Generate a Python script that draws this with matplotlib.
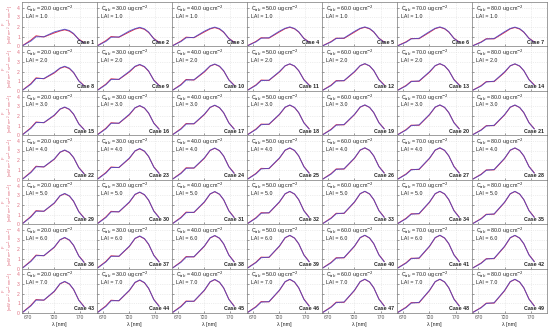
import matplotlib
matplotlib.use("Agg")
import matplotlib.pyplot as plt

# ============================================================
# Data (7 LAI rows x 7 Cab columns)
# ============================================================
wavelength = [660, 675, 685, 700, 720, 731, 740, 749, 757, 767, 777]
cab_values = [20.0, 30.0, 40.0, 50.0, 60.0, 70.0, 80.0]
lai_values = [1.0, 2.0, 3.0, 4.0, 5.0, 6.0, 7.0]

# red curve per case (case 1..49)
red_curves = [
    [0.12, 0.65, 1.10, 0.98, 1.40, 1.60, 1.72, 1.58, 1.29, 0.75, 0.40],
    [0.12, 0.60, 1.02, 0.95, 1.50, 1.79, 1.92, 1.77, 1.44, 0.82, 0.44],
    [0.11, 0.56, 0.96, 0.90, 1.50, 1.81, 1.95, 1.79, 1.46, 0.83, 0.45],
    [0.11, 0.52, 0.90, 0.86, 1.50, 1.84, 1.98, 1.82, 1.49, 0.84, 0.46],
    [0.10, 0.50, 0.86, 0.83, 1.48, 1.84, 1.98, 1.82, 1.49, 0.85, 0.46],
    [0.10, 0.48, 0.82, 0.80, 1.46, 1.84, 1.98, 1.82, 1.49, 0.85, 0.47],
    [0.10, 0.46, 0.80, 0.78, 1.44, 1.82, 1.96, 1.80, 1.47, 0.85, 0.47],
    [0.12, 0.75, 1.35, 1.25, 1.85, 2.33, 2.50, 2.30, 1.88, 1.05, 0.55],
    [0.12, 0.70, 1.25, 1.18, 1.95, 2.51, 2.70, 2.48, 2.03, 1.12, 0.58],
    [0.11, 0.66, 1.18, 1.12, 1.95, 2.56, 2.75, 2.53, 2.06, 1.15, 0.60],
    [0.11, 0.62, 1.12, 1.08, 1.95, 2.59, 2.78, 2.56, 2.09, 1.17, 0.61],
    [0.10, 0.59, 1.06, 1.04, 1.95, 2.60, 2.80, 2.58, 2.10, 1.18, 0.62],
    [0.10, 0.56, 1.00, 0.99, 1.93, 2.60, 2.80, 2.58, 2.10, 1.18, 0.62],
    [0.10, 0.54, 0.96, 0.96, 1.90, 2.59, 2.78, 2.56, 2.09, 1.18, 0.62],
    [0.12, 0.78, 1.38, 1.30, 2.05, 2.70, 2.90, 2.67, 2.18, 1.20, 0.62],
    [0.12, 0.73, 1.30, 1.24, 2.12, 2.84, 3.05, 2.81, 2.29, 1.27, 0.66],
    [0.11, 0.69, 1.22, 1.18, 2.14, 2.88, 3.10, 2.85, 2.33, 1.30, 0.67],
    [0.11, 0.65, 1.16, 1.13, 2.14, 2.90, 3.12, 2.87, 2.34, 1.31, 0.68],
    [0.10, 0.62, 1.10, 1.08, 2.13, 2.91, 3.13, 2.88, 2.35, 1.32, 0.69],
    [0.10, 0.59, 1.05, 1.04, 2.12, 2.91, 3.13, 2.88, 2.35, 1.32, 0.69],
    [0.10, 0.56, 1.00, 1.00, 2.10, 2.90, 3.12, 2.87, 2.34, 1.32, 0.69],
    [0.12, 0.80, 1.40, 1.32, 2.12, 2.84, 3.05, 2.81, 2.29, 1.27, 0.65],
    [0.12, 0.75, 1.32, 1.26, 2.20, 2.98, 3.20, 2.94, 2.40, 1.33, 0.69],
    [0.11, 0.70, 1.24, 1.20, 2.22, 3.03, 3.26, 3.00, 2.45, 1.36, 0.70],
    [0.11, 0.66, 1.18, 1.15, 2.22, 3.05, 3.28, 3.02, 2.46, 1.37, 0.71],
    [0.10, 0.63, 1.12, 1.10, 2.21, 3.06, 3.29, 3.03, 2.47, 1.38, 0.72],
    [0.10, 0.60, 1.07, 1.06, 2.20, 3.06, 3.29, 3.03, 2.47, 1.38, 0.72],
    [0.10, 0.57, 1.02, 1.02, 2.18, 3.05, 3.28, 3.02, 2.46, 1.38, 0.72],
    [0.12, 0.80, 1.40, 1.33, 2.17, 2.93, 3.15, 2.90, 2.36, 1.31, 0.67],
    [0.12, 0.75, 1.33, 1.27, 2.26, 3.07, 3.30, 3.04, 2.48, 1.37, 0.71],
    [0.11, 0.71, 1.25, 1.21, 2.28, 3.12, 3.36, 3.09, 2.52, 1.40, 0.72],
    [0.11, 0.67, 1.19, 1.16, 2.28, 3.14, 3.38, 3.11, 2.54, 1.41, 0.73],
    [0.10, 0.64, 1.13, 1.11, 2.27, 3.15, 3.39, 3.12, 2.54, 1.42, 0.74],
    [0.10, 0.61, 1.08, 1.07, 2.26, 3.15, 3.39, 3.12, 2.54, 1.42, 0.74],
    [0.10, 0.58, 1.03, 1.03, 2.24, 3.14, 3.38, 3.11, 2.54, 1.42, 0.74],
    [0.12, 0.80, 1.40, 1.33, 2.20, 2.98, 3.20, 2.94, 2.40, 1.33, 0.68],
    [0.12, 0.75, 1.33, 1.27, 2.29, 3.12, 3.35, 3.08, 2.51, 1.39, 0.72],
    [0.11, 0.71, 1.25, 1.21, 2.31, 3.17, 3.41, 3.14, 2.56, 1.42, 0.73],
    [0.11, 0.67, 1.19, 1.16, 2.31, 3.19, 3.43, 3.16, 2.57, 1.43, 0.74],
    [0.10, 0.64, 1.13, 1.11, 2.30, 3.20, 3.44, 3.16, 2.58, 1.44, 0.75],
    [0.10, 0.61, 1.08, 1.07, 2.29, 3.20, 3.44, 3.16, 2.58, 1.44, 0.75],
    [0.10, 0.58, 1.03, 1.03, 2.27, 3.19, 3.43, 3.16, 2.57, 1.44, 0.75],
    [0.12, 0.80, 1.40, 1.33, 2.23, 3.02, 3.25, 2.99, 2.44, 1.35, 0.69],
    [0.12, 0.75, 1.33, 1.27, 2.32, 3.16, 3.40, 3.13, 2.55, 1.41, 0.73],
    [0.11, 0.71, 1.25, 1.21, 2.34, 3.22, 3.46, 3.18, 2.60, 1.44, 0.74],
    [0.11, 0.67, 1.19, 1.16, 2.34, 3.24, 3.48, 3.20, 2.61, 1.45, 0.75],
    [0.10, 0.64, 1.13, 1.11, 2.33, 3.25, 3.49, 3.21, 2.62, 1.46, 0.76],
    [0.10, 0.61, 1.08, 1.07, 2.32, 3.25, 3.49, 3.21, 2.62, 1.46, 0.76],
    [0.10, 0.58, 1.03, 1.03, 2.30, 3.24, 3.48, 3.20, 2.61, 1.46, 0.76],
]

# blue curve per case (case 1..49)
blue_curves = [
    [0.10, 0.55, 1.00, 1.00, 1.50, 1.66, 1.78, 1.64, 1.34, 0.70, 0.35],
    [0.10, 0.52, 0.95, 0.98, 1.60, 1.84, 1.98, 1.82, 1.49, 0.78, 0.40],
    [0.10, 0.50, 0.90, 0.93, 1.58, 1.86, 2.00, 1.84, 1.50, 0.80, 0.42],
    [0.10, 0.47, 0.85, 0.90, 1.58, 1.88, 2.02, 1.86, 1.52, 0.81, 0.43],
    [0.09, 0.45, 0.82, 0.87, 1.56, 1.88, 2.02, 1.86, 1.52, 0.82, 0.43],
    [0.09, 0.43, 0.78, 0.84, 1.54, 1.88, 2.02, 1.86, 1.52, 0.82, 0.44],
    [0.09, 0.42, 0.76, 0.82, 1.52, 1.86, 2.00, 1.84, 1.50, 0.82, 0.44],
    [0.10, 0.68, 1.28, 1.28, 1.92, 2.37, 2.55, 2.35, 1.91, 1.02, 0.52],
    [0.10, 0.64, 1.18, 1.20, 2.02, 2.55, 2.74, 2.52, 2.06, 1.08, 0.55],
    [0.10, 0.60, 1.12, 1.15, 2.02, 2.59, 2.78, 2.56, 2.09, 1.12, 0.57],
    [0.10, 0.57, 1.06, 1.11, 2.00, 2.60, 2.80, 2.58, 2.10, 1.14, 0.58],
    [0.09, 0.54, 1.01, 1.07, 2.00, 2.62, 2.82, 2.59, 2.12, 1.15, 0.59],
    [0.09, 0.51, 0.96, 1.03, 1.98, 2.62, 2.82, 2.59, 2.12, 1.15, 0.59],
    [0.09, 0.49, 0.92, 1.00, 1.96, 2.60, 2.80, 2.58, 2.10, 1.15, 0.59],
    [0.10, 0.72, 1.32, 1.32, 2.10, 2.72, 2.93, 2.70, 2.20, 1.17, 0.60],
    [0.10, 0.67, 1.24, 1.26, 2.18, 2.86, 3.08, 2.83, 2.31, 1.24, 0.63],
    [0.10, 0.63, 1.16, 1.21, 2.19, 2.90, 3.12, 2.87, 2.34, 1.27, 0.64],
    [0.10, 0.60, 1.10, 1.16, 2.18, 2.92, 3.14, 2.89, 2.36, 1.28, 0.65],
    [0.09, 0.57, 1.05, 1.12, 2.17, 2.93, 3.15, 2.90, 2.36, 1.29, 0.66],
    [0.09, 0.54, 1.00, 1.08, 2.16, 2.93, 3.15, 2.90, 2.36, 1.29, 0.66],
    [0.09, 0.52, 0.96, 1.04, 2.14, 2.92, 3.14, 2.89, 2.36, 1.29, 0.66],
    [0.10, 0.74, 1.34, 1.34, 2.16, 2.86, 3.08, 2.83, 2.31, 1.24, 0.62],
    [0.10, 0.69, 1.26, 1.28, 2.25, 3.00, 3.23, 2.97, 2.42, 1.30, 0.66],
    [0.10, 0.64, 1.18, 1.23, 2.27, 3.05, 3.28, 3.02, 2.46, 1.33, 0.67],
    [0.10, 0.61, 1.12, 1.18, 2.26, 3.07, 3.30, 3.04, 2.48, 1.34, 0.68],
    [0.09, 0.58, 1.07, 1.14, 2.25, 3.08, 3.31, 3.05, 2.48, 1.35, 0.69],
    [0.09, 0.55, 1.02, 1.10, 2.24, 3.08, 3.31, 3.05, 2.48, 1.35, 0.69],
    [0.09, 0.53, 0.98, 1.06, 2.22, 3.07, 3.30, 3.04, 2.48, 1.35, 0.69],
    [0.10, 0.74, 1.34, 1.35, 2.21, 2.96, 3.18, 2.93, 2.39, 1.28, 0.64],
    [0.10, 0.69, 1.27, 1.29, 2.30, 3.10, 3.33, 3.06, 2.50, 1.34, 0.68],
    [0.10, 0.65, 1.19, 1.24, 2.32, 3.14, 3.38, 3.11, 2.54, 1.37, 0.69],
    [0.10, 0.62, 1.13, 1.19, 2.32, 3.16, 3.40, 3.13, 2.55, 1.38, 0.70],
    [0.09, 0.59, 1.08, 1.15, 2.31, 3.17, 3.41, 3.14, 2.56, 1.39, 0.71],
    [0.09, 0.56, 1.03, 1.11, 2.30, 3.17, 3.41, 3.14, 2.56, 1.39, 0.71],
    [0.09, 0.54, 0.99, 1.07, 2.28, 3.16, 3.40, 3.13, 2.55, 1.39, 0.71],
    [0.10, 0.74, 1.34, 1.35, 2.24, 3.00, 3.23, 2.97, 2.42, 1.30, 0.65],
    [0.10, 0.69, 1.27, 1.29, 2.33, 3.14, 3.38, 3.11, 2.54, 1.36, 0.69],
    [0.10, 0.65, 1.19, 1.24, 2.35, 3.19, 3.43, 3.16, 2.57, 1.39, 0.70],
    [0.10, 0.62, 1.13, 1.19, 2.35, 3.21, 3.45, 3.17, 2.59, 1.40, 0.71],
    [0.09, 0.59, 1.08, 1.15, 2.34, 3.22, 3.46, 3.18, 2.60, 1.41, 0.72],
    [0.09, 0.56, 1.03, 1.11, 2.33, 3.22, 3.46, 3.18, 2.60, 1.41, 0.72],
    [0.09, 0.54, 0.99, 1.07, 2.31, 3.21, 3.45, 3.17, 2.59, 1.41, 0.72],
    [0.10, 0.74, 1.34, 1.35, 2.27, 3.05, 3.28, 3.02, 2.46, 1.32, 0.66],
    [0.10, 0.69, 1.27, 1.29, 2.36, 3.19, 3.43, 3.16, 2.57, 1.38, 0.70],
    [0.10, 0.65, 1.19, 1.24, 2.38, 3.24, 3.48, 3.20, 2.61, 1.41, 0.71],
    [0.10, 0.62, 1.13, 1.19, 2.38, 3.26, 3.50, 3.22, 2.63, 1.42, 0.72],
    [0.09, 0.59, 1.08, 1.15, 2.37, 3.26, 3.51, 3.23, 2.63, 1.43, 0.73],
    [0.09, 0.56, 1.03, 1.11, 2.36, 3.26, 3.51, 3.23, 2.63, 1.43, 0.73],
    [0.09, 0.54, 0.99, 1.07, 2.34, 3.26, 3.50, 3.22, 2.63, 1.43, 0.73],
]

x_ticks = [670, 720, 770]
y_ticks = [0, 1, 2, 3, 4]

# ============================================================
# Styles
# ============================================================
color_red = "#e0304a"
color_blue = "#4848c8"
color_ylab = "#e07080"
color_text = "#222222"
FS = 3.8

plt.rcParams["font.family"] = "Liberation Sans"

fig, axes = plt.subplots(7, 7, figsize=(5.5, 3.32), dpi=100, sharex=True, sharey=True)
fig.subplots_adjust(left=0.040, right=0.995, top=0.994, bottom=0.057,
                    wspace=0, hspace=0)

for i, lai in enumerate(lai_values):
    for j, cab in enumerate(cab_values):
        ax = axes[i, j]
        k = i * 7 + j
        ax.plot(wavelength, red_curves[k], color=color_red, linewidth=0.7)
        ax.plot(wavelength, blue_curves[k], color=color_blue, linewidth=0.7, alpha=0.85)
        ax.set_xlim(658, 802)
        ax.set_ylim(0, 4.6)
        ax.set_xticks(x_ticks)
        ax.set_yticks(y_ticks)
        ax.grid(True, color="#dddddd", linestyle=":", linewidth=0.5)
        ax.tick_params(direction="in", length=1.2, width=0.4, labelsize=3.6,
                       pad=1.5, colors="#555555")
        for s in ax.spines.values():
            s.set_linewidth(0.5)
            s.set_color("#777777")
        ax.text(0.05, 0.97, "C$_{ab}$ = %.1f ug cm$^{-2}$" % cab, transform=ax.transAxes,
                fontsize=FS, va="top", ha="left", color=color_text)
        ax.text(0.05, 0.74, "LAI = %.1f" % lai, transform=ax.transAxes,
                fontsize=FS, va="top", ha="left", color=color_text)
        ax.text(0.96, 0.04, "Case %d" % (k + 1), transform=ax.transAxes,
                fontsize=FS, va="bottom", ha="right", color=color_text,
                fontweight="bold")
        if j == 0:
            ax.tick_params(axis="y", labelcolor=color_ylab)
            ax.set_ylabel("F\n[mW m$^{-2}$ sr$^{-1}$ nm$^{-1}$]", fontsize=2.9,
                          color=color_ylab, labelpad=1, linespacing=1.0)
        if i == 6:
            ax.set_xlabel("λ [nm]", fontsize=FS, color=color_text, labelpad=1)

fig.savefig("out.png", dpi=100)
